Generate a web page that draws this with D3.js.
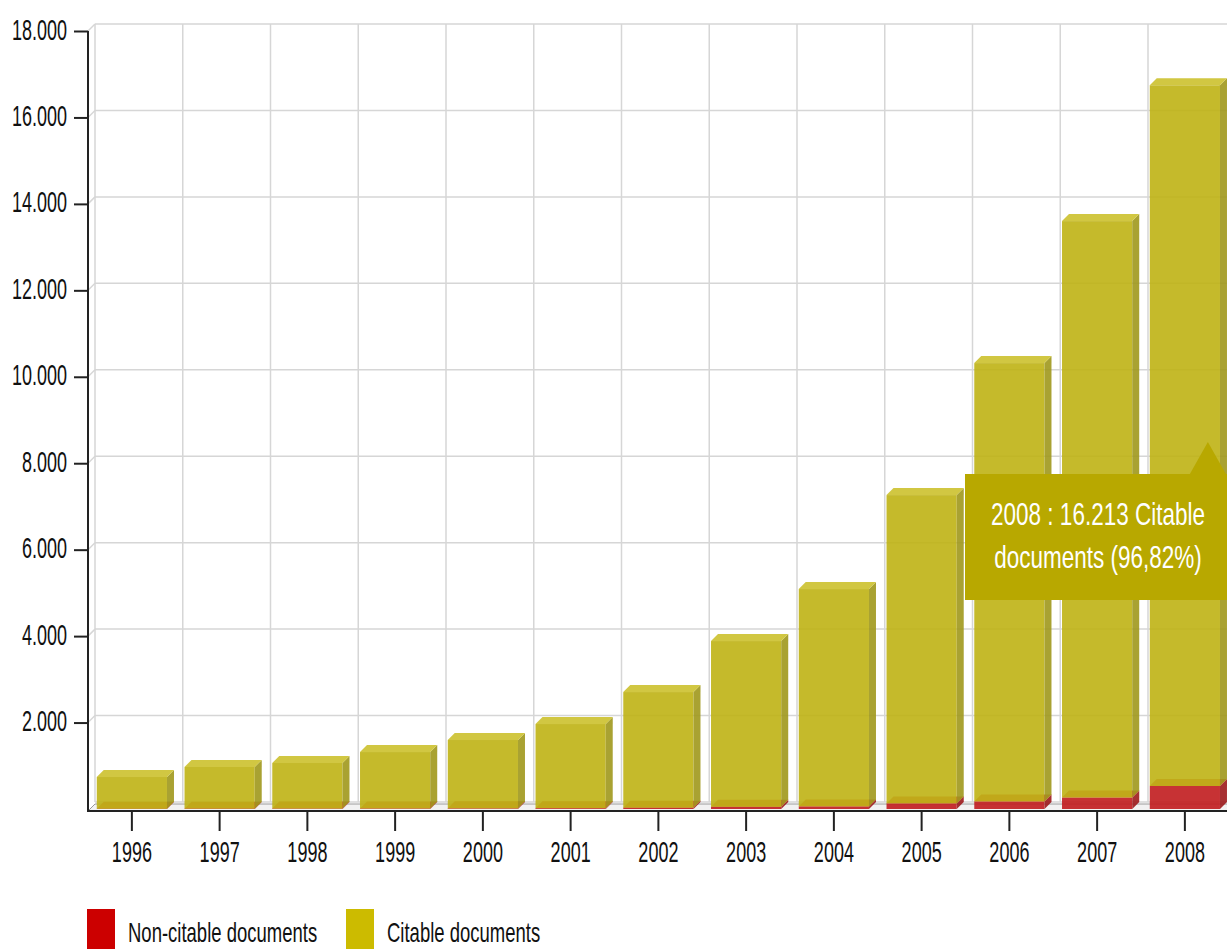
<!DOCTYPE html>
<html>
<head>
<meta charset="utf-8">
<script src="https://cdn.jsdelivr.net/npm/d3@7"></script>
<style>
  body { margin: 0; background: #fff; }
  svg { display: block; font-family: "Liberation Sans", Arial, sans-serif; }
</style>
</head>
<body>
<svg width="1227" height="949"></svg>
<script>
var years = ["1996", "1997", "1998", "1999", "2000", "2001", "2002", "2003", "2004", "2005", "2006", "2007", "2008"];
var nonCitable = [5, 8, 10, 12, 15, 20, 30, 50, 60, 130, 175, 265, 532];
var citable = [735, 964, 1054, 1306, 1581, 1946, 2676, 3836, 5029, 7133, 10142, 13337, 16213];
var yTicks = [2000, 4000, 6000, 8000, 10000, 12000, 14000, 16000, 18000];
var seriesNames = ["Non-citable documents", "Citable documents"];

const depth = 7;
const stretch = 1.6;

var locale = d3.formatLocale({decimal: ",", thousands: ".", grouping: [3], currency: ["", ""]});
var fmtInt = locale.format(",d");
var fmtPct = locale.format(".2f");

var svg = d3.select("svg");

var xScale = d3.scaleBand()
    .domain(years)
    .range([88, 88 + 13 * 87.75])
    .paddingInner(0.2)
    .paddingOuter(0.1);

var yScale = d3.scaleLinear()
    .domain([0, 18000])
    .range([809, 31]);

var step = xScale.step();
var x0 = xScale.range()[0];
var x1 = 1240;

// back wall grid
var grid = svg.append("g");
grid.selectAll(".hgrid")
    .data([0].concat(yTicks))
    .enter()
    .append("line")
    .attr("x1", x0 + depth).attr("x2", x1)
    .attr("y1", d => yScale(d) - depth).attr("y2", d => yScale(d) - depth)
    .attr("stroke", "#d6d6d6").attr("stroke-width", 1.5);
grid.selectAll(".hdiag")
    .data(yTicks)
    .enter()
    .append("line")
    .attr("x1", x0).attr("x2", x0 + depth)
    .attr("y1", d => yScale(d)).attr("y2", d => yScale(d) - depth)
    .attr("stroke", "#d6d6d6").attr("stroke-width", 1.5);
grid.selectAll(".vgrid")
    .data(d3.range(0, 13))
    .enter()
    .append("line")
    .attr("x1", i => x0 + i * step + depth).attr("x2", i => x0 + i * step + depth)
    .attr("y1", yScale(18000) - depth).attr("y2", yScale(0) - depth)
    .attr("stroke", "#d6d6d6").attr("stroke-width", 1.5);

// floor
svg.append("path")
    .attr("d", `M${x0},${yScale(0) + 2}L${x0 + depth},${yScale(0) - depth + 2}L${x1},${yScale(0) - depth + 2}L${x1},${yScale(0) + 2}Z`)
    .attr("fill", "#f2f2f2")
    .attr("stroke", "#999").attr("stroke-width", 1);

// stacked 3d bars
var stackData = years.map((y, i) => ({year: y, nonCitable: nonCitable[i], citable: citable[i]}));
var stack = d3.stack().keys(["nonCitable", "citable"]);
var layers = stack(stackData);

var colors = {
    nonCitable: {front: "#c21c1f", side: "#9e1a1c", top: "#d23336"},
    citable: {front: "#bfb315", side: "#a0981c", top: "#cdc22e"}
};

var bars = svg.append("g");
layers.forEach(function(layer) {
    var c = colors[layer.key];
    var g = bars.append("g").attr("opacity", 0.9);
    layer.forEach(function(d) {
        var bx = xScale(d.data.year);
        var bw = xScale.bandwidth();
        var yt = yScale(d[1]);
        var yb = yScale(d[0]);
        if (yb - yt <= 0) return;
        g.append("rect")
            .attr("x", bx).attr("y", yt)
            .attr("width", bw).attr("height", yb - yt)
            .attr("fill", c.front);
        g.append("path")
            .attr("d", `M${bx + bw},${yb}L${bx + bw},${yt}L${bx + bw + depth},${yt - depth}L${bx + bw + depth},${yb - depth}Z`)
            .attr("fill", c.side);
        g.append("path")
            .attr("d", `M${bx},${yt}L${bx + depth},${yt - depth}L${bx + bw + depth},${yt - depth}L${bx + bw},${yt}Z`)
            .attr("fill", c.top);
    });
});

// axes
var y_axis = d3.axisLeft(yScale)
    .tickValues(yTicks)
    .tickSize(14)
    .tickSizeOuter(0)
    .tickPadding(7)
    .tickFormat(d => fmtInt(d));

var yg = svg.append("g")
    .attr("transform", `translate(${x0}, 0)`)
    .call(y_axis);
yg.select(".domain").attr("stroke", "#222").attr("stroke-width", 2)
    .attr("d", `M0,${yScale(18000)}V${yScale(0) + 3}`);
yg.selectAll(".tick line").attr("stroke", "#222").attr("stroke-width", 2);
yg.selectAll(".tick text")
    .attr("font-size", 18).attr("fill", "#111")
    .attr("dy", 8 / stretch)
    .attr("transform", `scale(1,${stretch})`);

var x_axis = d3.axisBottom(xScale)
    .tickSize(20)
    .tickSizeOuter(0);

var xg = svg.append("g")
    .attr("transform", `translate(0, ${yScale(0) + 2})`)
    .call(x_axis);
xg.select(".domain").attr("stroke", "#222").attr("stroke-width", 2)
    .attr("d", `M${x0 - 1},0H${x1}`);
xg.selectAll(".tick line").attr("stroke", "#222").attr("stroke-width", 2);
xg.selectAll(".tick text")
    .attr("font-size", 18).attr("fill", "#111")
    .attr("y", 51 / stretch).attr("dy", 0)
    .attr("transform", `scale(1,${stretch})`);

// tooltip for 2008
var last = years.length - 1;
var total = citable[last] + nonCitable[last];
var cx = xScale(years[last]) + xScale.bandwidth() / 2;
var tipTop = 474, tipBottom = 600, tipLeft = 965;
var tip = svg.append("g");
tip.append("path")
    .attr("d", `M${tipLeft},${tipTop}H${cx + 5}L${cx + 23},442L${cx + 41},${tipTop}H${x1}V${tipBottom}H${tipLeft}Z`)
    .attr("fill", "#b8a800");
var tipLines = [years[last] + " : " + fmtInt(citable[last]) + " Citable",
                "documents (" + fmtPct(citable[last] / total * 100) + "%)"];
tip.selectAll("text")
    .data(tipLines)
    .enter()
    .append("text")
    .attr("text-anchor", "middle")
    .attr("font-size", 22.5)
    .attr("fill", "#fff")
    .attr("transform", (d, i) => `translate(1098, ${525 + i * 43}) scale(1,1.42)`)
    .text(d => d);

// legend
var legend = svg.append("g");
var legendX = [87, 346];
var legendColors = ["#cc0000", "#ccbb00"];
seriesNames.forEach(function(name, i) {
    legend.append("rect")
        .attr("x", legendX[i]).attr("y", 909)
        .attr("width", 28).attr("height", 45)
        .attr("fill", legendColors[i]);
    legend.append("text")
        .attr("font-size", 18.5).attr("fill", "#111")
        .attr("transform", `translate(${legendX[i] + 41}, 942) scale(1,1.5)`)
        .text(name);
});
</script>
</body>
</html>
